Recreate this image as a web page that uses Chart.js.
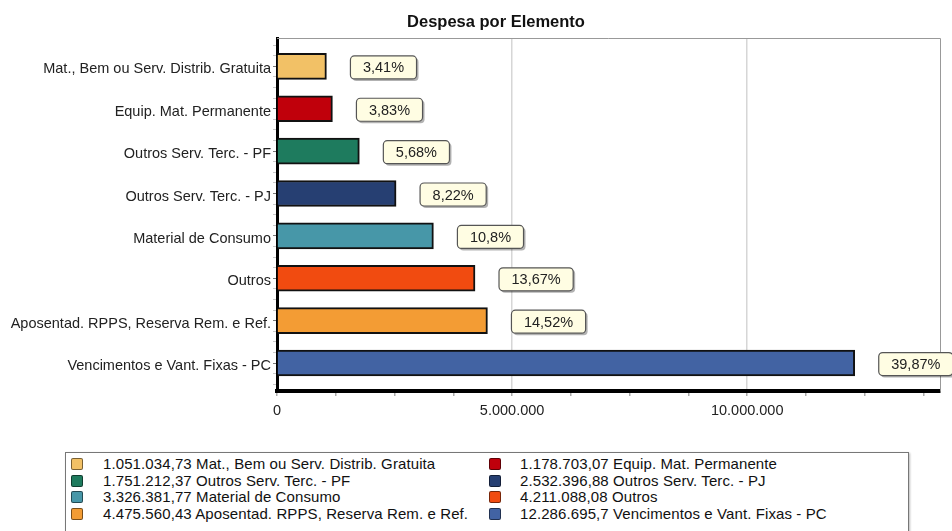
<!DOCTYPE html>
<html>
<head>
<meta charset="utf-8">
<script src="https://cdn.jsdelivr.net/npm/chart.js@4.4.1/dist/chart.umd.min.js"></script>
<style>
  html, body { margin: 0; padding: 0; background: #fff; }
  #wrap { position: relative; width: 952px; height: 531px; overflow: hidden; font-family: "Liberation Sans", Arial, sans-serif; }
  #chart { position: absolute; left: 0; top: 0; }
  #legend { position: absolute; left: 65px; top: 452px; width: 842px; height: 100px; border: 1px solid #777; box-shadow: 1px 1px 2px #bbb; }
  .item { position: absolute; font-size: 15px; color: #111; white-space: nowrap; line-height: 16px; letter-spacing: 0.1px; }
  .sw { position: absolute; width: 10px; height: 10px; border: 1px solid rgba(0,0,0,0.5); border-radius: 2px; top: 2px; }
</style>
</head>
<body>
<div id="wrap">
  <canvas id="chart" width="952" height="440"></canvas>
  <div id="legend"></div>
</div>
<script>
// chart data, top bar first
const categories = [
  "Mat., Bem ou Serv. Distrib. Gratuita",
  "Equip. Mat. Permanente",
  "Outros Serv. Terc. - PF",
  "Outros Serv. Terc. - PJ",
  "Material de Consumo",
  "Outros",
  "Aposentad. RPPS, Reserva Rem. e Ref.",
  "Vencimentos e Vant. Fixas - PC"
];
const values = [1051034.73, 1178703.07, 1751212.37, 2532396.88, 3326381.77, 4211088.08, 4475560.43, 12286695.7];
const colors = ["#F2C166", "#C0000B", "#1E7B5E", "#263F72", "#4797A8", "#F14B10", "#F39C34", "#4263A3"];
const xTickValues = [0, 5000000, 10000000];

const FONT = "Liberation Sans, Arial, sans-serif";
const total = values.reduce((a, b) => a + b, 0);

// 1234567.8 -> "1.234.567,8"
function fmt(v) {
  const parts = v.toFixed(2).split(".");
  const ip = parts[0].replace(/\B(?=(\d{3})+(?!\d))/g, ".");
  const dec = parts[1].replace(/0+$/, "");
  return dec ? ip + "," + dec : ip;
}
function pct(v) {
  return (v / total * 100).toFixed(2).replace(/0+$/, "").replace(/\.$/, "").replace(".", ",") + "%";
}

// frame, percentage boxes and title
const extras = {
  id: "extras",
  beforeDatasetsDraw(chart) {
    const { ctx, chartArea: a } = chart;
    ctx.save();
    ctx.strokeStyle = "#999";
    ctx.lineWidth = 1;
    ctx.beginPath();
    ctx.moveTo(a.left, a.top + 0.5);
    ctx.lineTo(a.right + 0.5, a.top + 0.5);
    ctx.lineTo(a.right + 0.5, a.bottom);
    ctx.stroke();
    ctx.restore();
  },
  afterDatasetsDraw(chart) {
    const { ctx } = chart;
    const meta = chart.getDatasetMeta(0);
    ctx.save();
    ctx.font = "14.5px " + FONT;
    ctx.textAlign = "center";
    ctx.textBaseline = "middle";
    meta.data.forEach((bar, i) => {
      const txt = pct(values[i]);
      const w = ctx.measureText(txt).width + 25;
      const h = 23;
      const x0 = bar.x + 24;
      const y0 = bar.y - h / 2 + 1;
      ctx.fillStyle = "rgba(0,0,0,0.3)";
      ctx.beginPath();
      ctx.roundRect(x0 + 2, y0 + 2, w, h, 4);
      ctx.fill();
      ctx.fillStyle = "#FFFDE3";
      ctx.strokeStyle = "#555";
      ctx.lineWidth = 1.2;
      ctx.beginPath();
      ctx.roundRect(x0, y0, w, h, 4);
      ctx.fill();
      ctx.stroke();
      ctx.fillStyle = "#222";
      ctx.fillText(txt, x0 + w / 2, y0 + h / 2 + 1);
    });
    ctx.restore();
  },
  afterDraw(chart) {
    const { ctx } = chart;
    ctx.save();
    ctx.font = "bold 16.5px " + FONT;
    ctx.fillStyle = "#111";
    ctx.textAlign = "center";
    ctx.textBaseline = "middle";
    ctx.fillText("Despesa por Elemento", 496, 22);
    ctx.restore();
  }
};

new Chart(document.getElementById("chart"), {
  type: "bar",
  data: {
    datasets: [{
      data: values.map((v, i) => ({ x: v, y: i })),
      backgroundColor: colors,
      borderColor: "#111",
      borderWidth: 2,
      borderSkipped: "left",
      barThickness: 26
    }]
  },
  options: {
    indexAxis: "y",
    responsive: false,
    animation: false,
    devicePixelRatio: 1,
    layout: { padding: { left: 0, right: 12, top: 38, bottom: 0 } },
    plugins: { legend: { display: false }, tooltip: { enabled: false } },
    scales: {
      x: {
        type: "linear",
        min: 0,
        max: 14100000,
        afterBuildTicks: s => {
          const t = [];
          for (let v = 0; v <= s.max; v += 1250000) t.push({ value: v });
          s.ticks = t;
        },
        afterFit: s => { s.height = 49; },
        ticks: {
          autoSkip: false,
          maxRotation: 0,
          padding: 6,
          color: "#222",
          font: { family: FONT, size: 14.5 },
          callback: v => xTickValues.includes(v) ? fmt(v) : ""
        },
        grid: {
          color: c => (c.tick && c.tick.value > 0 && xTickValues.includes(c.tick.value)) ? "#d6d6d6" : "rgba(0,0,0,0)",
          lineWidth: 1.5,
          tickLength: 5,
          tickColor: "#aaa"
        },
        border: { color: "#000", width: 4 }
      },
      y: {
        type: "linear",
        reverse: true,
        offset: false,
        min: -0.67,
        max: 7.66,
        afterBuildTicks: s => {
          const t = [];
          for (let v = -0.5; v <= 7.5; v += 0.25) t.push({ value: v });
          s.ticks = t;
        },
        afterFit: s => { s.width = 277; },
        ticks: {
          autoSkip: false,
          padding: 2,
          labelOffset: 3,
          color: "#222",
          font: { family: FONT, size: 14.5 },
          callback: v => Number.isInteger(v) ? categories[v] : ""
        },
        grid: {
          offset: false,
          drawOnChartArea: false,
          tickLength: 4,
          tickColor: c => (c.tick && Number.isInteger(c.tick.value)) ? "#777" : "#c8c8c8"
        },
        border: { color: "#000", width: 3 }
      }
    }
  },
  plugins: [extras]
});

// legend: two columns, filled row by row
const legend = document.getElementById("legend");
categories.forEach((name, i) => {
  const col = i % 2, row = Math.floor(i / 2);
  const el = document.createElement("div");
  el.className = "item";
  el.style.left = (col === 0 ? 37 : 454) + "px";
  el.style.top = (3 + row * 16.6) + "px";
  const sw = document.createElement("span");
  sw.className = "sw";
  sw.style.left = (col === 0 ? -32 : -31) + "px";
  sw.style.background = colors[i];
  el.appendChild(sw);
  el.appendChild(document.createTextNode(fmt(values[i]) + " " + name));
  legend.appendChild(el);
});
</script>
</body>
</html>
